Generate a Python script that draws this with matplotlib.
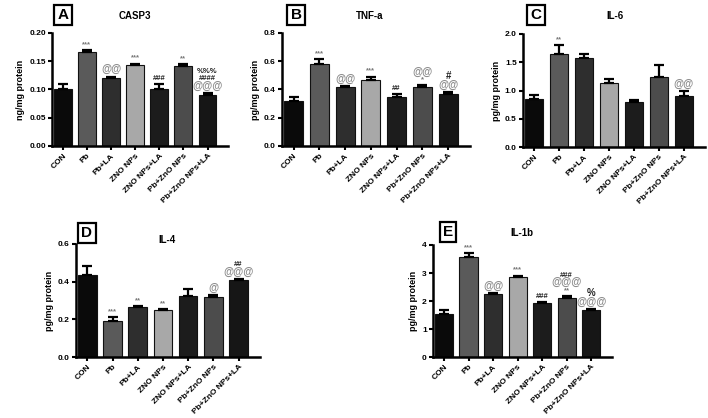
import matplotlib
matplotlib.use("Agg")
import matplotlib.pyplot as plt
import numpy as np

plt.rcParams.update({"font.family": ["Liberation Sans", "DejaVu Sans"],
                     "font.weight": "bold"})

groups = ["CON", "Pb", "Pb+LA", "ZNO NPs", "ZNO NPs+LA", "Pb+ZnO NPs", "Pb+ZnO NPs+LA"]
bar_colors = ["#0a0a0a", "#5a5a5a", "#2e2e2e", "#a8a8a8", "#1c1c1c", "#4c4c4c", "#161616"]

casp3 = [0.100, 0.167, 0.120, 0.143, 0.100, 0.142, 0.090]
casp3_err = [0.010, 0.003, 0.003, 0.003, 0.010, 0.003, 0.004]
casp3_sig = [[], ["***"], ["@@"], ["***"], ["###"], ["**"], ["@@@", "####", "%%%"]]

tnfa = [0.32, 0.58, 0.42, 0.47, 0.35, 0.42, 0.37]
tnfa_err = [0.025, 0.035, 0.005, 0.02, 0.015, 0.01, 0.01]
tnfa_sig = [[], ["***"], ["@@"], ["***"], ["##"], ["*", "@@"], ["@@", "#"]]

il6 = [0.85, 1.65, 1.57, 1.13, 0.79, 1.24, 0.91]
il6_err = [0.07, 0.15, 0.08, 0.07, 0.04, 0.21, 0.08]
il6_sig = [[], ["**"], [], [], [], [], ["@@"]]

il4 = [0.435, 0.19, 0.265, 0.25, 0.325, 0.32, 0.41]
il4_err = [0.05, 0.02, 0.005, 0.005, 0.035, 0.008, 0.004]
il4_sig = [[], ["***"], ["**"], ["**"], [], ["@"], ["@@@", "##"]]

il1b = [1.53, 3.58, 2.24, 2.86, 1.93, 2.10, 1.67]
il1b_err = [0.15, 0.12, 0.04, 0.04, 0.03, 0.08, 0.03]
il1b_sig = [[], ["***"], ["@@"], ["***"], ["###"], ["**", "@@@", "###"], ["@@@", "%"]]

W, H = 708, 418
fig = plt.figure(figsize=(W / 100, H / 100), dpi=100, facecolor="white")


def px_axes(x0, y_top, x1, y_bot):
    return fig.add_axes([x0 / W, 1 - y_bot / H, (x1 - x0) / W, (y_bot - y_top) / H])


panels = [
    # letter, title, ylabel, values, err, sig, ymax, ystep, fmt, axes box, letter pos, title pos
    ("A", "CASP3", "ng/mg protein", casp3, casp3_err, casp3_sig, 0.20, 0.05, "{:.2f}",
     (52, 33, 228, 146), (63, 15), (135, 16)),
    ("B", "TNF-a", "pg/mg protein", tnfa, tnfa_err, tnfa_sig, 0.8, 0.2, "{:.1f}",
     (282, 33, 470, 146), (296, 15), (370, 16)),
    ("C", "IL-6", "pg/mg protein", il6, il6_err, il6_sig, 2.0, 0.5, "{:.1f}",
     (523, 34, 705, 147), (536, 15), (615, 16)),
    ("D", "IL-4", "pg/mg protein", il4, il4_err, il4_sig, 0.6, 0.2, "{:.1f}",
     (76, 244, 260, 357), (87, 233), (167, 240)),
    ("E", "IL-1b", "pg/mg protein", il1b, il1b_err, il1b_sig, 4, 1, "{:.0f}",
     (433, 245, 612, 357), (448, 232), (522, 233)),
]

for letter, title, ylab, vals, err, sig, ymax, ystep, fmt, box, lpos, tpos in panels:
    ax = px_axes(*box)
    x = np.arange(len(groups))
    ax.bar(x, vals, width=0.74, color=bar_colors, edgecolor="#111111", linewidth=0.8, zorder=2)
    ax.errorbar(x, vals, yerr=[np.zeros(len(vals)), err], fmt="none", ecolor="black",
                elinewidth=1.6, capsize=3.5, capthick=1.6, zorder=3)
    ax.set_xlim(-0.45, 6.85)
    ax.set_ylim(0, ymax)
    ticks = np.arange(0, ymax + ystep / 2, ystep)
    ax.set_yticks(ticks)
    ax.set_yticklabels([fmt.format(t) for t in ticks], fontsize=6, fontweight="bold")
    ax.set_xticks(x)
    ax.set_xticklabels(groups, rotation=45, ha="right", rotation_mode="anchor",
                       fontsize=6, fontweight="bold")
    for s in ("top", "right"):
        ax.spines[s].set_visible(False)
    for s in ("left", "bottom"):
        ax.spines[s].set_linewidth(1.8)
    ax.tick_params(width=1.5, length=3, pad=1.5)
    ax.set_ylabel(ylab, fontsize=6.5, fontweight="bold", labelpad=3)

    for i, labels in enumerate(sig):
        off = 1.5
        for lab in labels:
            is_at = "@" in lab
            fs = 7.5 if is_at else (7 if lab in ("%", "#") else 5.5)
            col = "#8c8c8c" if is_at else ("#777777" if lab.startswith("*") else "#222222")
            ax.annotate(lab, (i, vals[i] + err[i]), xytext=(0, off), textcoords="offset points",
                        ha="center", va="bottom", fontsize=fs, color=col, fontweight="bold",
                        annotation_clip=False)
            off += fs * 0.85

    fig.text(lpos[0] / W, 1 - lpos[1] / H, letter, fontsize=11, ha="center", va="center",
             bbox=dict(boxstyle="square,pad=0.2", facecolor="white", edgecolor="black", linewidth=1.6))
    fig.text(tpos[0] / W, 1 - tpos[1] / H, title, fontsize=7, fontweight="bold",
             ha="center", va="center")

fig.savefig("out.png", dpi=100, facecolor="white")
